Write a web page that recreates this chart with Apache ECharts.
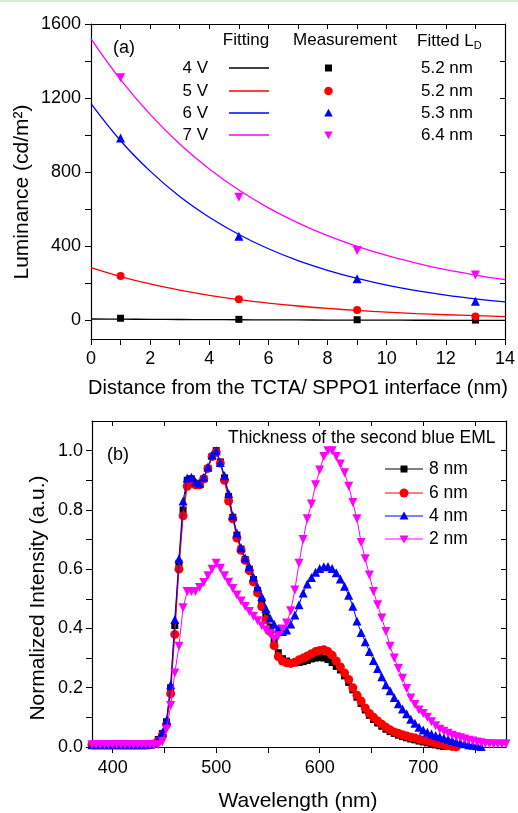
<!DOCTYPE html>
<html><head><meta charset="utf-8">
<script src="https://cdn.jsdelivr.net/npm/echarts@6/dist/echarts.min.js"></script>
<style>html,body{margin:0;padding:0;background:#fff}#c{width:518px;height:813px}</style>
</head><body><div id="c"></div>
<script>
const FONT = '"Liberation Sans", Arial, Helvetica, sans-serif';

// ---------- Panel (a) ----------
const fitDistance = [0,1,2,3,4,5,6,7,8,9,10,11,12,13,14];
const fit4V = [8,7,6,5.3,4.6,4,3.4,2.9,2.4,2,1.6,1.3,1,0.8,0.6];
const fit5V = [285,237,197,164,136,113,94,78,65,54,45,37,31,26,21];
const fit6V = [1170,970,806,669,557,464,387,323,271,227,191,161,137,117,100];
const fit7V = [1520,1300,1112,952,818,704,608,527,458,400,351,310,274,245,220];
const measDistance = [1,5,9,13];
const meas4V = [12,6,4,2];
const meas5V = [240,114,56,22];
const meas6V = [985,455,225,104];
const meas7V = [1310,665,378,245];
const voltages = ['4 V','5 V','6 V','7 V'];
const fittedLD = ['5.2 nm','5.2 nm','5.3 nm','6.4 nm'];
const aXLabels = [0,2,4,6,8,10,12,14];
const aXTicks = [0,1,2,3,4,5,6,7,8,9,10,11,12,13,14];
const aYLabels = [0,400,800,1200,1600];
const aYTicks = [0,200,400,600,800,1000,1200,1400,1600];

// ---------- Panel (b) ----------
const wavelength = [
 380,384,388,392,396,400,404,408,412,416,
 420,424,428,432,436,440,444,448,452,456,
 460,464,468,472,476,480,484,488,492,496,
 500,504,508,512,516,520,524,528,532,536,
 540,544,548,552,556,560,564,568,572,576,
 580,584,588,592,596,600,604,608,612,616,
 620,624,628,632,636,640,644,648,652,656,
 660,664,668,672,676,680,684,688,692,696,
 700,704,708,712,716,720,724,728,732,736,
 740,744,748,752,756,760,764,768,772,776,
 780];
const eml8nm = [
 0.008,0.008,0.008,0.008,0.008,0.008,0.008,0.008,0.008,0.008,
 0.008,0.008,0.008,0.008,0.009,0.012,0.025,0.045,0.085,0.2,
 0.41,0.62,0.8,0.9,0.905,0.89,0.885,0.905,0.94,0.98,
 1.0,0.962,0.908,0.845,0.775,0.715,0.668,0.633,0.6,0.565,
 0.528,0.49,0.448,0.405,0.36,0.318,0.298,0.29,0.285,0.284,
 0.285,0.288,0.292,0.297,0.3,0.302,0.3,0.295,0.285,0.272,
 0.26,0.24,0.218,0.193,0.168,0.147,0.125,0.107,0.093,0.081,
 0.07,0.06,0.052,0.046,0.04,0.035,0.031,0.027,0.024,0.02,
 0.017,0.014,0.01,0.007,0.004,0.002,-0.01,-0.01,-0.01,-0.01,
 -0.01,-0.01,-0.01,-0.01,-0.01,-0.01,-0.01,-0.01,-0.01,-0.01,
 -0.01];
const eml6nm = [
 0.008,0.008,0.008,0.008,0.008,0.008,0.008,0.008,0.008,0.008,
 0.008,0.008,0.008,0.008,0.008,0.01,0.02,0.04,0.075,0.18,
 0.38,0.6,0.78,0.88,0.89,0.885,0.885,0.905,0.94,0.98,
 0.995,0.958,0.9,0.83,0.77,0.705,0.664,0.63,0.595,0.557,
 0.52,0.474,0.43,0.39,0.342,0.305,0.29,0.284,0.282,0.286,
 0.294,0.3,0.307,0.315,0.322,0.326,0.328,0.322,0.31,0.29,
 0.27,0.25,0.228,0.2,0.175,0.155,0.132,0.113,0.1,0.088,
 0.077,0.067,0.058,0.051,0.046,0.041,0.037,0.033,0.03,0.026,
 0.023,0.02,0.017,0.013,0.01,0.007,0.004,0.002,0.001,-0.01,
 -0.01,-0.01,-0.01,-0.01,-0.01,-0.01,-0.01,-0.01,-0.01,-0.01,
 -0.01];
const eml4nm = [
 0.008,0.008,0.008,0.008,0.008,0.008,0.008,0.008,0.008,0.008,
 0.008,0.008,0.008,0.008,0.009,0.012,0.025,0.05,0.09,0.21,
 0.43,0.635,0.83,0.908,0.91,0.895,0.89,0.91,0.945,0.985,
 1.0,0.96,0.915,0.855,0.78,0.722,0.672,0.638,0.609,0.574,
 0.54,0.508,0.467,0.435,0.414,0.4,0.39,0.395,0.415,0.445,
 0.48,0.52,0.55,0.572,0.59,0.602,0.608,0.609,0.602,0.588,
 0.567,0.542,0.512,0.475,0.425,0.386,0.355,0.322,0.292,0.265,
 0.237,0.21,0.19,0.167,0.146,0.128,0.112,0.094,0.08,0.067,
 0.057,0.05,0.044,0.039,0.035,0.03,0.026,0.022,0.018,0.014,
 0.011,0.008,0.006,0.004,0.002,-0.01,-0.01,-0.01,-0.01,-0.01,
 -0.01];
const eml2nm = [
 0.008,0.008,0.008,0.008,0.008,0.008,0.008,0.008,0.008,0.008,
 0.008,0.008,0.008,0.008,0.008,0.008,0.008,0.018,0.06,0.14,
 0.25,0.34,0.47,0.525,0.525,0.525,0.538,0.555,0.578,0.6,
 0.62,0.603,0.578,0.556,0.535,0.513,0.493,0.474,0.457,0.441,
 0.426,0.409,0.395,0.381,0.365,0.375,0.398,0.418,0.46,0.53,
 0.62,0.7,0.77,0.82,0.885,0.935,0.98,1.0,1.0,0.98,
 0.955,0.925,0.88,0.825,0.77,0.69,0.635,0.58,0.525,0.48,
 0.435,0.39,0.34,0.3,0.265,0.232,0.197,0.165,0.143,0.125,
 0.113,0.1,0.085,0.072,0.06,0.053,0.046,0.04,0.035,0.031,
 0.027,0.023,0.02,0.017,0.014,0.012,0.011,0.01,0.01,0.01,
 0.01];
const emlNames = ['8 nm','6 nm','4 nm','2 nm'];
const bXLabels = [400,500,600,700];
const bXTicks = [400,450,500,550,600,650,700,750];
const bYLabels = [0,0.2,0.4,0.6,0.8,1.0];
const bYTicks = [0,0.1,0.2,0.3,0.4,0.5,0.6,0.7,0.8,0.9,1.0];

const COLORS = ['#000000','#ff0000','#0000ff','#ff00ff'];
const SYMBOLS = ['rect','circle','triangle','triangle'];
const ROTS = [0,0,0,180];

function pairs(xs, ys){ return xs.map((x,i)=>[x, ys[i]]); }

const lineAxis = { lineStyle: { color:'#000', width:1.2 }, onZero:false };
function mainAxis(extra, labels, ticks, fmt){
  return Object.assign({
    type:'value', axisLine: lineAxis, splitLine:{show:false},
    axisTick:{ show:true, inside:false, length:6, customValues:ticks, lineStyle:{color:'#000', width:1} },
    axisLabel:{ customValues:labels, color:'#000', fontSize:18, fontFamily:FONT, formatter:fmt }
  }, extra);
}
function mirrorAxis(extra, ticks){
  return Object.assign({
    type:'value', axisLine: lineAxis, splitLine:{show:false},
    axisTick:{ show:true, inside:true, length:5, customValues:ticks, lineStyle:{color:'#000', width:1} },
    axisLabel:{ show:false }
  }, extra);
}

const series = [];
const fits = [fit4V, fit5V, fit6V, fit7V];
const meas = [meas4V, meas5V, meas6V, meas7V];
fits.forEach((f,i)=>{
  series.push({ name:'fit '+voltages[i], type:'line', xAxisIndex:0, yAxisIndex:0,
    data: pairs(fitDistance, f), symbol:'none', smooth:0.4, silent:true,
    lineStyle:{ color:COLORS[i], width:1.3 }, z:2 });
});
const measSizes = [7,8,9,9];
meas.forEach((m,i)=>{
  series.push({ name:'meas '+voltages[i], type:'scatter', xAxisIndex:0, yAxisIndex:0,
    data: pairs(measDistance, m), symbol:SYMBOLS[i], symbolRotate:ROTS[i], symbolSize:measSizes[i],
    itemStyle:{ color:COLORS[i], opacity:1 }, z:3 });
});
const emls = [eml8nm, eml6nm, eml4nm, eml2nm];
const emlSizes = [7,9,9,9];
emls.forEach((d,i)=>{
  series.push({ name:emlNames[i], type:'line', xAxisIndex:2, yAxisIndex:2,
    data: pairs(wavelength, d), symbol:SYMBOLS[i], symbolRotate:ROTS[i], symbolSize:emlSizes[i],
    showSymbol:true, showAllSymbol:true, clip:true,
    lineStyle:{ color:COLORS[i], width:1 }, itemStyle:{ color:COLORS[i], borderWidth:0 }, z:2+i });
});

// ---- legend of panel (a), drawn as a table ----
const rowY = [68, 91, 113, 135];
const graphic = [
  { type:'rect', shape:{x:0,y:0,width:518,height:2}, style:{fill:'#d6ebd6'} },
  { type:'text', x:124, y:48, style:{ text:'(a)', font:'18px '+FONT, fill:'#000', textAlign:'center', textVerticalAlign:'middle' } },
  { type:'text', x:118, y:455, style:{ text:'(b)', font:'18px '+FONT, fill:'#000', textAlign:'center', textVerticalAlign:'middle' } },
  { type:'text', x:246, y:40, style:{ text:'Fitting', font:'17px '+FONT, fill:'#000', textAlign:'center', textVerticalAlign:'middle' } },
  { type:'text', x:345, y:40, style:{ text:'Measurement', font:'17px '+FONT, fill:'#000', textAlign:'center', textVerticalAlign:'middle' } },
  { type:'text', x:417, y:41, style:{ text:'{a|Fitted L}{s|D}', fill:'#000', textAlign:'left', textVerticalAlign:'middle',
      rich:{ a:{ fontSize:17, fontFamily:FONT, color:'#000' }, s:{ fontSize:11, fontFamily:FONT, color:'#000', padding:[10,0,0,0] } } } },
  { type:'text', x:228, y:438, style:{ text:'Thickness of the second blue EML', font:'17.5px '+FONT, fill:'#000', textAlign:'left', textVerticalAlign:'middle' } },
  // axis titles
  { type:'text', x:22, y:192, rotation:Math.PI/2, style:{ text:'Luminance (cd/m²)', font:'21px '+FONT, fill:'#000', textAlign:'center', textVerticalAlign:'middle' } },
  { type:'text', x:298, y:388, style:{ text:'Distance from the TCTA/ SPPO1 interface (nm)', font:'20px '+FONT, fill:'#000', textAlign:'center', textVerticalAlign:'middle' } },
  { type:'text', x:38, y:598, rotation:Math.PI/2, style:{ text:'Normalized Intensity (a.u.)', font:'21px '+FONT, fill:'#000', textAlign:'center', textVerticalAlign:'middle' } },
  { type:'text', x:298, y:801, style:{ text:'Wavelength (nm)', font:'21px '+FONT, fill:'#000', textAlign:'center', textVerticalAlign:'middle' } }
];
function markerShape(i, cx, cy, s){
  const h = s/2;
  if (i === 0) return { type:'rect', shape:{x:cx-h, y:cy-h, width:s, height:s}, style:{fill:COLORS[i]} };
  if (i === 1) return { type:'circle', shape:{cx:cx, cy:cy, r:h}, style:{fill:COLORS[i]} };
  if (i === 2) return { type:'polygon', shape:{points:[[cx,cy-h],[cx+h,cy+h*0.8],[cx-h,cy+h*0.8]]}, style:{fill:COLORS[i]} };
  return { type:'polygon', shape:{points:[[cx,cy+h],[cx+h,cy-h*0.8],[cx-h,cy-h*0.8]]}, style:{fill:COLORS[i]} };
}
voltages.forEach((v,i)=>{
  const y = rowY[i];
  graphic.push({ type:'text', x:208, y:y, style:{ text:v, font:'17px '+FONT, fill:'#000', textAlign:'right', textVerticalAlign:'middle' } });
  graphic.push({ type:'line', shape:{x1:229,y1:y,x2:269,y2:y}, style:{ stroke:COLORS[i], lineWidth:1.5 } });
  graphic.push({ type:'text', x:447, y:y, style:{ text:fittedLD[i], font:'17px '+FONT, fill:'#000', textAlign:'center', textVerticalAlign:'middle' } });
  graphic.push(markerShape(i, 328.5, y, i===0 ? 7 : 8.5));
});
// ---- legend of panel (b) ----
const legY = [469, 493, 516, 539];
emlNames.forEach((n,i)=>{
  const y = legY[i];
  graphic.push({ type:'line', shape:{x1:385,y1:y,x2:423,y2:y}, style:{ stroke:COLORS[i], lineWidth:1 } });
  graphic.push(markerShape(i, 404, y, i===0 ? 7 : 9));
  graphic.push({ type:'text', x:429, y:y, style:{ text:n, font:'17.5px '+FONT, fill:'#000', textAlign:'left', textVerticalAlign:'middle' } });
});

const option = {
  animation:false,
  backgroundColor:'#fff',
  textStyle:{ fontFamily:FONT },
  grid:[
    { left:91, top:24, width:414, height:315 },
    { left:92, top:421, width:414, height:326 }
  ],
  xAxis:[
    mainAxis({ gridIndex:0, position:'bottom', min:0, max:14 }, aXLabels, aXTicks, v=>String(v)),
    mirrorAxis({ gridIndex:0, position:'top', min:0, max:14 }, aXTicks),
    mainAxis({ gridIndex:1, position:'bottom', min:380, max:780 }, bXLabels, bXTicks, v=>String(v)),
    mirrorAxis({ gridIndex:1, position:'top', min:380, max:780 }, bXTicks)
  ],
  yAxis:[
    mainAxis({ gridIndex:0, position:'left', min:-100, max:1600 }, aYLabels, aYTicks, v=>String(v)),
    mirrorAxis({ gridIndex:0, position:'right', min:-100, max:1600 }, aYTicks),
    mainAxis({ gridIndex:1, position:'left', min:0, max:1.1 }, bYLabels, bYTicks, v=>Number(v).toFixed(1)),
    mirrorAxis({ gridIndex:1, position:'right', min:0, max:1.1 }, bYTicks)
  ],
  graphic: graphic,
  series: series
};
option.xAxis[0].axisLabel.margin = 11;
option.xAxis[2].axisLabel.margin = 12;
option.yAxis[0].axisLabel.margin = 10;
option.yAxis[2].axisLabel.margin = 9;

const chart = echarts.init(document.getElementById('c'), null, { renderer:'canvas' });
chart.setOption(option);
</script>
</body></html>
